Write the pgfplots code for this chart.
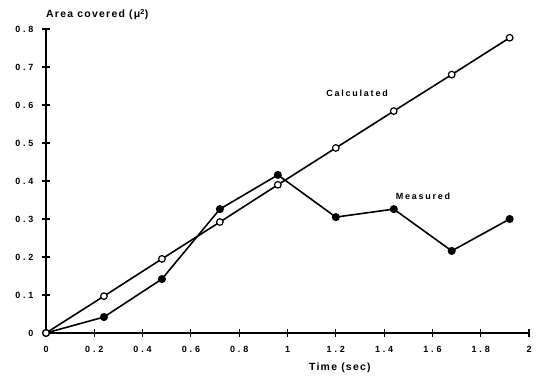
\documentclass[border=0pt]{standalone}
\usepackage{fontspec}
\setmainfont{Liberation Sans}
\usepackage{pgfplots}
\pgfplotsset{compat=1.18}
\newfontfamily\tickfont[LetterSpace=32]{Liberation Sans}
\newfontfamily\labfont[LetterSpace=20]{Liberation Sans}
\newfontfamily\titfont[LetterSpace=12]{Liberation Sans}
\begin{document}
\begin{tikzpicture}
\begin{axis}[
  scale only axis, width=483bp, height=304bp,
  xmin=0, xmax=2, ymin=0, ymax=0.8,
  axis lines=left,
  axis line style={-, line width=1.4bp},
  tick align=center,
  major tick length=8bp,
  tick style={line width=1.1bp, black},
  xtick={0,0.2,0.4,0.6,0.8,1,1.2,1.4,1.6,1.8,2},
  xticklabels={0,0.2,0.4,0.6,0.8,1,1.2,1.4,1.6,1.8,2},
  ytick={0,0.1,0.2,0.3,0.4,0.5,0.6,0.7,0.8},
  yticklabels={0,0.1,0.2,0.3,0.4,0.5,0.6,0.7,0.8},
  ticklabel style={font=\tickfont\bfseries\fontsize{9}{10}\selectfont},
  xticklabel style={yshift=-6bp},
  yticklabel style={xshift=-5bp},
  clip=false,
]
\addplot[black, line width=1.6bp, mark=*, mark size=3.2bp, mark options={fill=black}]
coordinates {(0,0) (0.24,0.042) (0.48,0.142) (0.72,0.326) (0.96,0.416) (1.2,0.305) (1.44,0.326) (1.68,0.216) (1.92,0.300)};
\addplot[black, line width=1.6bp, mark=*, mark size=3.3bp, mark options={fill=white, line width=1.2bp}]
coordinates {(0,0) (0.24,0.097) (0.48,0.195) (0.72,0.292) (0.96,0.390) (1.2,0.487) (1.44,0.584) (1.68,0.680) (1.92,0.777)};
\node[font=\labfont\bfseries\fontsize{9}{10}\selectfont] at (axis cs:1.288,0.632) {Calculated};
\node[font=\labfont\bfseries\fontsize{9}{10}\selectfont] at (axis cs:1.561,0.361) {Measured};
\node[font=\titfont\bfseries\fontsize{10.5}{12}\selectfont] at ([yshift=-35bp]axis cs:1.217,0) {Time (sec)};
\node[anchor=base west, inner sep=0pt, yshift=11bp, font=\titfont\bfseries\fontsize{10.5}{12}\selectfont] at (axis cs:0,0.8) {Area covered (μ\textsuperscript{2})};
\coordinate (bl) at (rel axis cs:0,0);
\coordinate (tr) at (rel axis cs:1,1);
\end{axis}
\pgfresetboundingbox
\path[use as bounding box] ([xshift=-46bp,yshift=-44bp]bl) rectangle ([xshift=11bp,yshift=29bp]tr);
\end{tikzpicture}
\end{document}
